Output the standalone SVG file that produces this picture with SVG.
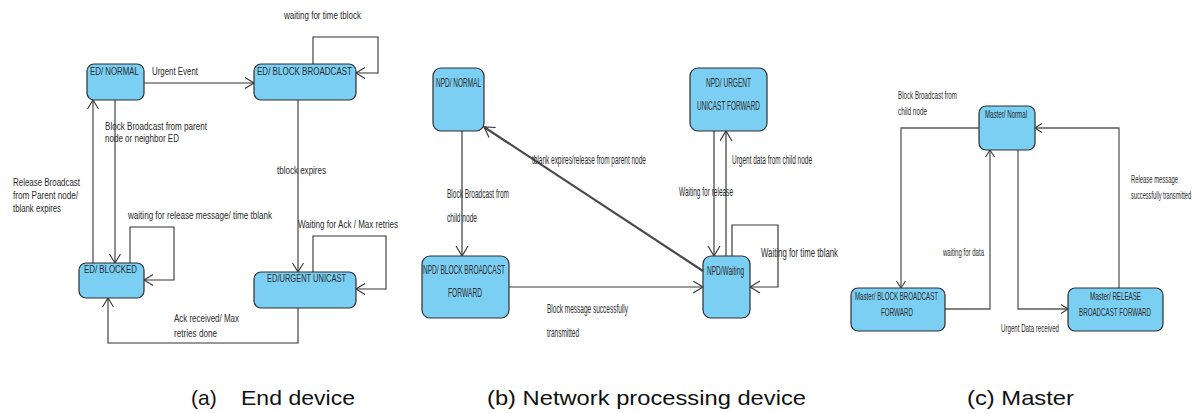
<svg xmlns="http://www.w3.org/2000/svg" width="1199" height="413" viewBox="0 0 1199 413">
  <style>
    .state { fill: #7acff3; stroke: #2e2e2e; stroke-width: 1.2; }
    .edge { fill: none; stroke: #333; stroke-width: 1.1; }
    .edge-m { fill: none; stroke: #3a3a3a; stroke-width: 1.2; }
    .edge-r { fill: none; stroke: #5a5a5a; stroke-width: 1.3; }
    .diag { fill: none; stroke: #4a4a4a; stroke-width: 2.2; }
    text { font-family: "Liberation Sans", Arial, sans-serif; fill: #2a2a2a; }
    .lbl { font-size: 10px; }
    .lblm { font-size: 13px; }
    .lblr { font-size: 10.5px; }
    .cap { font-size: 21px; fill: #111; }
  </style>
  <defs>
    <marker id="arr" markerUnits="userSpaceOnUse" markerWidth="14" markerHeight="14" refX="10" refY="6" orient="auto">
      <path d="M1,0.5 L10,6 L1,11.5" fill="none" stroke="#333" stroke-width="1.1"/>
    </marker>
    <marker id="arrM" markerUnits="userSpaceOnUse" markerWidth="14" markerHeight="14" refX="11" refY="6.5" orient="auto">
      <path d="M1,0.5 L11,6.5 L1,12.5" fill="none" stroke="#3a3a3a" stroke-width="1.2"/>
    </marker>
    <marker id="arrR" markerUnits="userSpaceOnUse" markerWidth="12" markerHeight="12" refX="8" refY="5" orient="auto">
      <path d="M1,0.5 L8,5 L1,9.5" fill="none" stroke="#444" stroke-width="1.2"/>
    </marker>
  </defs>

  <!-- (a) End device -->
  <g id="connectors-a">
    <path class="edge" d="M144,83 L254,83" marker-end="url(#arr)"/>
    <path class="edge" d="M313,64 L313,37 L378,37 L378,73 L356,73" marker-end="url(#arr)"/>
    <path class="edge" d="M115,100 L115,263" marker-end="url(#arr)"/>
    <path class="edge" d="M93,263 L93,100" marker-end="url(#arr)"/>
    <path class="edge" d="M130,263 L130,227 L174,227 L174,280 L144,280" marker-end="url(#arr)"/>
    <path class="edge" d="M298,100 L298,272" marker-end="url(#arr)"/>
    <path class="edge" d="M313,272 L313,236 L386,236 L386,289 L356,289" marker-end="url(#arr)"/>
    <path class="edge" d="M298,308 L298,343 L108,343 L108,298" marker-end="url(#arr)"/>
    <text class="lbl" x="284" y="19" textLength="77" lengthAdjust="spacingAndGlyphs">waiting for time tblock</text>
    <text class="lbl" x="152" y="75" textLength="46" lengthAdjust="spacingAndGlyphs">Urgent Event</text>
    <text class="lbl" x="105" y="130" textLength="102" lengthAdjust="spacingAndGlyphs">Block Broadcast from parent</text>
    <text class="lbl" x="105" y="142" textLength="74" lengthAdjust="spacingAndGlyphs">node or neighbor ED</text>
    <text class="lbl" x="277" y="174" textLength="49" lengthAdjust="spacingAndGlyphs">tblock expires</text>
    <text class="lbl" x="13" y="186" textLength="67" lengthAdjust="spacingAndGlyphs">Release Broadcast</text>
    <text class="lbl" x="13" y="199" textLength="65" lengthAdjust="spacingAndGlyphs">from Parent node/</text>
    <text class="lbl" x="13" y="212" textLength="48" lengthAdjust="spacingAndGlyphs">tblank expires</text>
    <text class="lbl" x="128" y="219" textLength="144" lengthAdjust="spacingAndGlyphs">waiting for release message/ time tblank</text>
    <text class="lbl" x="298" y="228" textLength="100" lengthAdjust="spacingAndGlyphs">Waiting for Ack / Max retries</text>
    <text class="lbl" x="174" y="322" textLength="65" lengthAdjust="spacingAndGlyphs">Ack received/ Max</text>
    <text class="lbl" x="174" y="337" textLength="43" lengthAdjust="spacingAndGlyphs">retries done</text>
  </g>
  <g id="ed-normal">
    <rect class="state" x="87" y="64" width="57" height="36" rx="7"/>
    <text class="lbl" x="90" y="75" textLength="49" lengthAdjust="spacingAndGlyphs">ED/ NORMAL</text>
  </g>
  <g id="ed-block-broadcast">
    <rect class="state" x="254" y="64" width="102" height="36" rx="7"/>
    <text class="lbl" x="257" y="75" textLength="95" lengthAdjust="spacingAndGlyphs">ED/ BLOCK BROADCAST</text>
  </g>
  <g id="ed-blocked">
    <rect class="state" x="79" y="263" width="65" height="35" rx="7"/>
    <text class="lbl" x="84" y="273" textLength="53" lengthAdjust="spacingAndGlyphs">ED/ BLOCKED</text>
  </g>
  <g id="ed-urgent-unicast">
    <rect class="state" x="254" y="272" width="102" height="36" rx="7"/>
    <text class="lbl" x="267" y="282" textLength="79" lengthAdjust="spacingAndGlyphs">ED/URGENT UNICAST</text>
  </g>

  <!-- (b) Network processing device -->
  <g id="connectors-b">
    <path class="edge-m" d="M462,131 L462,256" marker-end="url(#arrM)"/>
    <path class="diag" d="M703,271 L484,127" marker-end="url(#arrM)"/>
    <path class="edge-m" d="M714,131 L714,256" marker-end="url(#arrM)"/>
    <path class="edge-m" d="M726,256 L726,131" marker-end="url(#arrM)"/>
    <path class="edge-m" d="M732,256 L732,225 L778,225 L778,287 L750,287" marker-end="url(#arrM)"/>
    <path class="edge-m" d="M509,287 L703,287" marker-end="url(#arrM)"/>
    <text class="lblm" transform="translate(532,164) scale(0.498,1)">tblank expires/release from parent node</text>
    <text class="lblm" x="732" y="164" textLength="80" lengthAdjust="spacingAndGlyphs">Urgent data from child node</text>
    <text class="lblm" x="679" y="196" textLength="54" lengthAdjust="spacingAndGlyphs">Waiting for release</text>
    <text class="lblm" x="447" y="198" textLength="62" lengthAdjust="spacingAndGlyphs">Block Broadcast from</text>
    <text class="lblm" x="447" y="222" textLength="30" lengthAdjust="spacingAndGlyphs">child node</text>
    <text class="lblm" x="761" y="257" textLength="77" lengthAdjust="spacingAndGlyphs">Waiting for time tblank</text>
    <text class="lblm" x="547" y="313" textLength="81" lengthAdjust="spacingAndGlyphs">Block message successfully</text>
    <text class="lblm" x="547" y="337" textLength="32" lengthAdjust="spacingAndGlyphs">transmitted</text>
  </g>
  <g id="npd-normal">
    <rect class="state" x="433" y="68" width="51" height="63" rx="8"/>
    <text class="lblm" x="436" y="87" textLength="45" lengthAdjust="spacingAndGlyphs">NPD/ NORMAL</text>
  </g>
  <g id="npd-urgent-unicast-forward">
    <rect class="state" x="690" y="68" width="77" height="63" rx="8"/>
    <text class="lblm" x="706" y="87" textLength="45" lengthAdjust="spacingAndGlyphs">NPD/ URGENT</text>
    <text class="lblm" x="697" y="110" textLength="63" lengthAdjust="spacingAndGlyphs">UNICAST FORWARD</text>
  </g>
  <g id="npd-block-broadcast-forward">
    <rect class="state" x="422" y="256" width="87" height="62" rx="8"/>
    <text class="lblm" x="423" y="274" textLength="82" lengthAdjust="spacingAndGlyphs">NPD/ BLOCK BROADCAST</text>
    <text class="lblm" x="448" y="297" textLength="34" lengthAdjust="spacingAndGlyphs">FORWARD</text>
  </g>
  <g id="npd-waiting">
    <rect class="state" x="703" y="256" width="47" height="62" rx="8"/>
    <text class="lblm" x="707" y="275" textLength="37" lengthAdjust="spacingAndGlyphs">NPD/Waiting</text>
  </g>

  <!-- (c) Master -->
  <g id="connectors-c">
    <path class="edge-r" d="M979,128 L901,128 L901,288" marker-end="url(#arrR)"/>
    <path class="edge-r" d="M1018,150 L1018,309 L1068,309" marker-end="url(#arrR)"/>
    <path class="edge-r" d="M945,309 L990,309 L990,150" marker-end="url(#arrR)"/>
    <path class="edge-r" d="M1119,288 L1119,128 L1035,128" marker-end="url(#arrR)"/>
    <text class="lblr" x="898" y="99" textLength="59" lengthAdjust="spacingAndGlyphs">Block Broadcast from</text>
    <text class="lblr" x="898" y="115" textLength="29" lengthAdjust="spacingAndGlyphs">child node</text>
    <text class="lblr" transform="translate(1131,183) scale(0.56,1)">Release message</text>
    <text class="lblr" transform="translate(1131,199) scale(0.54,1)">successfully transmitted</text>
    <text class="lblr" x="943" y="256" textLength="41" lengthAdjust="spacingAndGlyphs">waiting for data</text>
    <text class="lblr" x="1001" y="332" textLength="58" lengthAdjust="spacingAndGlyphs">Urgent Data received</text>
  </g>
  <g id="master-normal">
    <rect class="state" x="979" y="106" width="56" height="44" rx="7"/>
    <text class="lblr" x="985" y="118" textLength="42" lengthAdjust="spacingAndGlyphs">Master/ Normal</text>
  </g>
  <g id="master-block-broadcast-forward">
    <rect class="state" x="851" y="288" width="94" height="43" rx="7"/>
    <text class="lblr" x="855" y="300" textLength="83" lengthAdjust="spacingAndGlyphs">Master/ BLOCK BROADCAST</text>
    <text class="lblr" x="881" y="316" textLength="32" lengthAdjust="spacingAndGlyphs">FORWARD</text>
  </g>
  <g id="master-release-broadcast-forward">
    <rect class="state" x="1068" y="288" width="95" height="43" rx="7"/>
    <text class="lblr" x="1090" y="300" textLength="51" lengthAdjust="spacingAndGlyphs">Master/ RELEASE</text>
    <text class="lblr" x="1079" y="316" textLength="72" lengthAdjust="spacingAndGlyphs">BROADCAST FORWARD</text>
  </g>

  <!-- captions -->
  <g id="captions">
    <text class="cap" x="191" y="405">(a)</text>
    <text class="cap" x="241" y="405" textLength="114" lengthAdjust="spacingAndGlyphs">End device</text>
    <text class="cap" x="487" y="405" textLength="319" lengthAdjust="spacingAndGlyphs">(b) Network processing device</text>
    <text class="cap" x="967" y="405" textLength="107" lengthAdjust="spacingAndGlyphs">(c) Master</text>
  </g>
</svg>
